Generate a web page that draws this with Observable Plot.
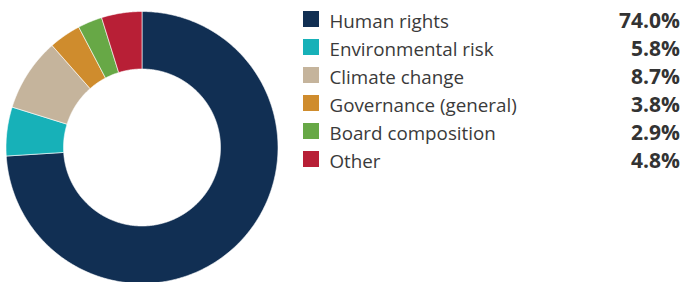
<!DOCTYPE html>
<html>
<head>
<meta charset="utf-8">
<script src="https://cdn.jsdelivr.net/npm/d3@7"></script>
<script src="https://cdn.jsdelivr.net/npm/@observablehq/plot@0.6"></script>
<style>
  html, body { margin: 0; padding: 0; background: #fff; }
  #chart { width: 683px; height: 282px; overflow: hidden; }
  svg { font-family: "Open Sans", "Liberation Sans", sans-serif; }
</style>
</head>
<body>
<div id="chart"></div>
<script>
const categories = ["Human rights", "Environmental risk", "Climate change", "Governance (general)", "Board composition", "Other"];
const values = [74.0, 5.8, 8.7, 3.8, 2.9, 4.8];
const valueLabels = ["74.0%", "5.8%", "8.7%", "3.8%", "2.9%", "4.8%"];
const colors = ["#112f53", "#17b1b8", "#c5b49c", "#cf8c2d", "#67a846", "#b81f36"];

// Layout (pixels)
const W = 683, H = 282;
const cx = 141.5, cy = 147;      // donut centre in px
const rOuter = 136, rInner = 78.5;
const legendX = 303, legendTop = 11, rowPitch = 28, sq = 16;
const labelX = 329, valueX = 679.5;

// px -> data coords (1 data unit = 1 px, y upward)
const X = px => px - cx;
const Y = py => cy - py;

// Donut polygons from d3.pie angles
const arcs = d3.pie().sort(null)(values);
const donut = [];
arcs.forEach((a, i) => {
  const n = Math.max(4, Math.ceil((a.endAngle - a.startAngle) / (Math.PI / 360)));
  for (let k = 0; k <= n; k++) {
    const t = a.startAngle + (a.endAngle - a.startAngle) * k / n;
    donut.push({category: categories[i], x: rOuter * Math.sin(t), y: rOuter * Math.cos(t)});
  }
  for (let k = n; k >= 0; k--) {
    const t = a.startAngle + (a.endAngle - a.startAngle) * k / n;
    donut.push({category: categories[i], x: rInner * Math.sin(t), y: rInner * Math.cos(t)});
  }
  donut.push({category: categories[i], x: rOuter * Math.sin(a.startAngle), y: rOuter * Math.cos(a.startAngle)});
});

const legend = categories.map((c, i) => ({
  category: c,
  label: valueLabels[i],
  x1: X(legendX), x2: X(legendX + sq),
  y1: Y(legendTop + i * rowPitch + sq), y2: Y(legendTop + i * rowPitch),
  tx: X(labelX), vx: X(valueX),
  ty: Y(legendTop + i * rowPitch + sq)
}));

const chart = Plot.plot({
  width: W, height: H,
  margin: 0,
  x: {domain: [X(0), X(W)], axis: null},
  y: {domain: [Y(H), Y(0)], axis: null},
  color: {domain: categories, range: colors},
  marks: [
    Plot.line(donut, {x: "x", y: "y", z: "category", fill: "category", stroke: "white", strokeWidth: 0.6, curve: "linear"}),
    Plot.rect(legend, {x1: "x1", x2: "x2", y1: "y1", y2: "y2", fill: "category"}),
    Plot.text(legend, {x: "tx", y: "ty", text: "category", textAnchor: "start", lineAnchor: "bottom", fontSize: 18.8, fill: "#3a3a3a"}),
    Plot.text(legend, {x: "vx", y: "ty", text: "label", textAnchor: "end", lineAnchor: "bottom", fontSize: 21, fontWeight: "bold", fill: "#333333"})
  ]
});
document.getElementById("chart").appendChild(chart);
</script>
</body>
</html>
